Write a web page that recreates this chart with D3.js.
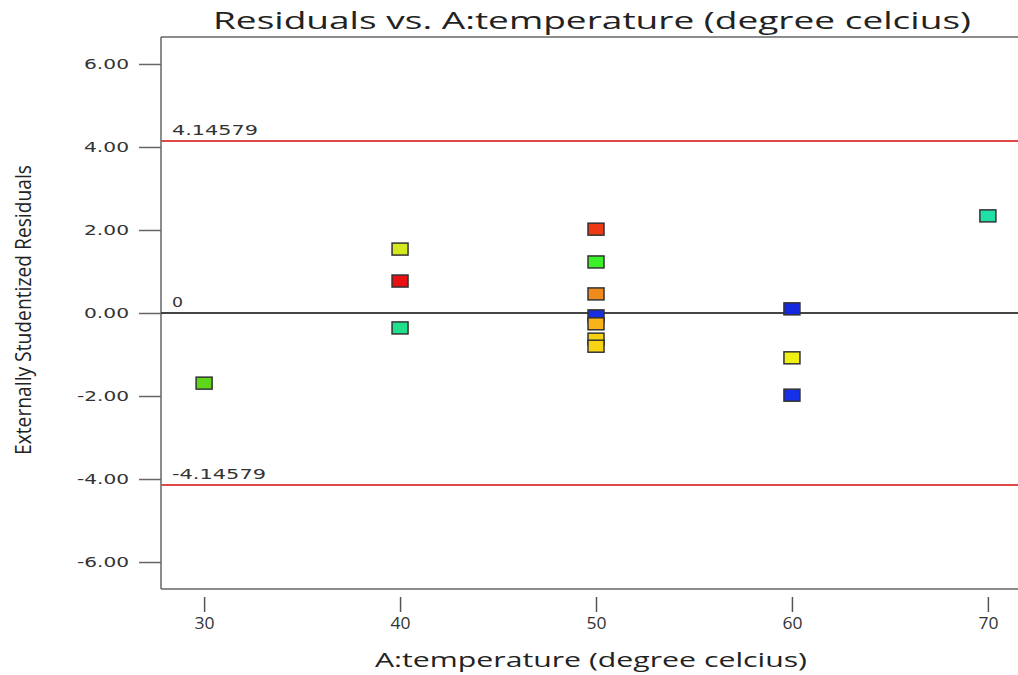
<!DOCTYPE html>
<html>
<head>
<meta charset="utf-8">
<script src="https://cdn.jsdelivr.net/npm/d3@7"></script>
<style>
  body { margin: 0; background: #fff; }
  svg { display: block; }
</style>
</head>
<body>
<svg width="1018" height="675"></svg>
<script>
// data
var temps = [30, 40, 40, 40, 50, 50, 50, 50, 50, 50, 50, 60, 60, 60, 70];
var residuals = [-1.69, 1.54, 0.77, -0.36, 2.02, 1.23, 0.46, -0.07, -0.26, -0.63, -0.80, 0.10, -1.08, -1.98, 2.34];
var colors = ["#5ed61a", "#d4e81e", "#e81010", "#20e08c", "#ee3a14", "#3cf02a", "#f08a1c", "#1a2ee0",
              "#f8b21a", "#f6d214", "#f8d414", "#1428e0", "#f0f014", "#1430e8", "#20e0a8"];
var xTicks = [30, 40, 50, 60, 70];
var yTicks = [-6, -4, -2, 0, 2, 4, 6];
var limit = 4.14579;

var svg = d3.select("svg");

// plot box (right edge runs past the window)
var plotL = 161, plotR = 1031, plotT = 37, plotB = 589;

var x = d3.scaleLinear().domain([27.8, 72.2]).range([plotL, plotR]);
var y = d3.scaleLinear().domain([-6.65, 6.65]).range([plotB, plotT]);

// Title
svg.append("text")
  .attr("x", 592)
  .attr("y", 29)
  .attr("text-anchor", "middle")
  .attr("textLength", 758)
  .attr("lengthAdjust", "spacingAndGlyphs")
  .style("font-family", "Open Sans")
  .style("font-size", 24)
  .style("fill", "#222")
  .text("Residuals vs. A:temperature (degree celcius)");

// frame (left, top, bottom)
var frame = svg.append("g").style("stroke", "#666").style("stroke-width", 1.5);
frame.append("line").attr("x1", plotL).attr("x2", plotL).attr("y1", plotT).attr("y2", plotB);
frame.append("line").attr("x1", plotL).attr("x2", 1018).attr("y1", plotT).attr("y2", plotT);
frame.append("line").attr("x1", plotL).attr("x2", 1018).attr("y1", plotB).attr("y2", plotB);

// Y axis
var yAxis = svg.append("g")
  .attr("transform", "translate(" + plotL + ",0)")
  .call(d3.axisLeft(y).tickValues(yTicks)
    .tickFormat(function (d) { return d.toFixed(2); })
    .tickSize(22).tickPadding(10));
yAxis.select(".domain").remove();
yAxis.selectAll("line").style("stroke", "#666").style("stroke-width", 1.5);
yAxis.selectAll("text")
  .attr("textLength", function (d) { return d < 0 ? 52 : 45; })
  .attr("lengthAdjust", "spacingAndGlyphs")
  .style("font-family", "DejaVu Sans")
  .style("font-size", 14)
  .style("fill", "#333");

// X axis
var xAxis = svg.append("g")
  .attr("transform", "translate(0," + (plotB + 8) + ")")
  .call(d3.axisBottom(x).tickValues(xTicks).tickSize(15).tickPadding(6));
xAxis.select(".domain").remove();
xAxis.selectAll("line").style("stroke", "#555").style("stroke-width", 1.5);
xAxis.selectAll("text")
  .attr("textLength", 20)
  .attr("lengthAdjust", "spacingAndGlyphs")
  .style("font-family", "Open Sans")
  .style("font-size", 16)
  .style("fill", "#333");

// X label
svg.append("text")
  .attr("x", 591)
  .attr("y", 667)
  .attr("text-anchor", "middle")
  .attr("textLength", 432)
  .attr("lengthAdjust", "spacingAndGlyphs")
  .style("font-family", "Open Sans")
  .style("font-size", 20)
  .style("fill", "#222")
  .text("A:temperature (degree celcius)");

// Y label (condensed)
svg.append("text")
  .attr("text-anchor", "middle")
  .attr("transform", "translate(31,310)rotate(-90)")
  .attr("textLength", 290)
  .attr("lengthAdjust", "spacingAndGlyphs")
  .style("font-family", "Open Sans")
  .style("font-size", 22)
  .style("fill", "#222")
  .text("Externally Studentized Residuals");

// reference lines
var refs = [
  { v: limit, color: "#e04848", label: "4.14579", w: 86 },
  { v: -limit, color: "#e04848", label: "-4.14579", w: 94 },
  { v: 0, color: "#444", label: "0", w: 11 }
];
refs.forEach(function (r) {
  svg.append("line")
    .attr("x1", plotL).attr("x2", 1018)
    .attr("y1", y(r.v)).attr("y2", y(r.v))
    .style("stroke", r.color)
    .style("stroke-width", 2);
  svg.append("text")
    .attr("x", 172)
    .attr("y", y(r.v) - 6)
    .attr("textLength", r.w)
    .attr("lengthAdjust", "spacingAndGlyphs")
    .style("font-family", "DejaVu Sans")
    .style("font-size", 14)
    .style("fill", "#333")
    .text(r.label);
});

// points
svg.append("g")
  .selectAll("rect")
  .data(temps)
  .enter()
  .append("rect")
  .attr("x", function (d) { return x(d) - 8; })
  .attr("y", function (d, i) { return y(residuals[i]) - 6; })
  .attr("width", 16)
  .attr("height", 12)
  .style("fill", function (d, i) { return colors[i]; })
  .style("stroke", "#333")
  .style("stroke-width", 1.5);
</script>
</body>
</html>
